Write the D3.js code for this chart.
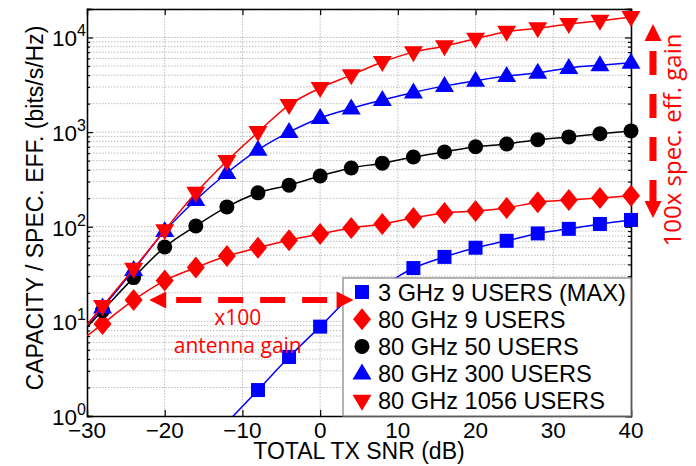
<!DOCTYPE html>
<html>
<head>
<meta charset="utf-8">
<script src="https://cdn.jsdelivr.net/npm/d3@7"></script>
<style>
  body { margin: 0; background: #fff; }
  svg { display: block; font-family: "Liberation Sans", Arial, sans-serif; }
  .note { font-family: "Open Sans", sans-serif; fill: #ff0000; }
</style>
</head>
<body>
<div class="chart"></div>
<script>
var snrDb = [-30, -28, -24, -20, -16, -12, -8, -4, 0, 4, 8, 12, 16, 20, 24, 28, 32, 36, 40];
var xTicks = [-30, -20, -10, 0, 10, 20, 30, 40];
var yDecades = [1, 10, 100, 1000, 10000];

var ghz3Users9 = [null, null, null, null, null, 0.85, 1.88, 4.2, 8.8, 18, 24, 36.6, 48, 60, 71, 85, 95, 107, 118];
var ghz80Users9 = [7.0, 9.4, 16.8, 27, 37, 49, 60, 72, 84, 97, 107, 124, 140, 147, 158, 182, 192, 201, 212];
var ghz80Users50 = [8.7, 13, 29, 61, 102, 162, 228, 275, 344, 418, 470, 545, 617, 700, 750, 830, 890, 960, 1030];
var ghz80Users300 = [9.2, 14, 35, 90, 192, 370, 650, 1000, 1410, 1780, 2180, 2620, 3080, 3490, 3910, 4240, 4770, 5100, 5400];
var ghz80Users1056 = [9.2, 14.5, 36, 92, 228, 496, 1000, 1930, 2930, 4000, 5500, 7000, 8100, 9700, 11500, 12500, 13900, 15000, 16500];

var seriesNames = ['3 GHz 9 USERS (MAX)', '80 GHz 9 USERS', '80 GHz 50 USERS', '80 GHz 300 USERS', '80 GHz 1056 USERS'];
var seriesValues = [ghz3Users9, ghz80Users9, ghz80Users50, ghz80Users300, ghz80Users1056];
var seriesColors = ['#0000ff', '#ff0000', '#000000', '#0000ff', '#ff0000'];
var seriesShapes = ['square', 'diamond', 'circle', 'up', 'down'];

var W = 696, H = 466;
var margin = {top: 9, right: 65, bottom: 50, left: 87};
var width = W - margin.left - margin.right;
var height = H - margin.top - margin.bottom;

var svg = d3.select('div.chart').append('svg')
    .attr('width', W)
    .attr('height', H);

var g = svg.append('g')
    .attr('transform', 'translate(' + margin.left + ',' + margin.top + ')');

var x = d3.scaleLinear().domain([-30, 40]).range([0, width]);
var y = d3.scaleLog().domain([1, 20000]).range([height, 0]);

// minor + major log ticks
var yAll = [];
yDecades.forEach(function (d) {
  for (var k = 1; k <= 9; k++) {
    var v = d * k;
    if (v <= 20000) yAll.push(v);
  }
});
var yMinor = yAll.filter(function (v) { return yDecades.indexOf(v) < 0; });

// grid
g.append('g').selectAll('line.ygrid')
  .data(yAll.filter(function (v) { return v > 1; }))
  .enter().append('line')
  .attr('x1', 0).attr('x2', width)
  .attr('y1', function (d) { return y(d); })
  .attr('y2', function (d) { return y(d); })
  .attr('stroke', '#bdbdbd')
  .attr('stroke-width', 1)
  .attr('stroke-dasharray', '1.5,1.5');

g.append('g').selectAll('line.xgrid')
  .data(xTicks.slice(1, -1))
  .enter().append('line')
  .attr('y1', 0).attr('y2', height)
  .attr('x1', function (d) { return x(d); })
  .attr('x2', function (d) { return x(d); })
  .attr('stroke', '#bdbdbd')
  .attr('stroke-width', 1)
  .attr('stroke-dasharray', '1.5,1.5');

// axes: inward ticks on all four sides
var xAxisB = d3.axisBottom(x).tickValues(xTicks).tickSize(-6).tickFormat('');
var xAxisT = d3.axisTop(x).tickValues(xTicks).tickSize(-6).tickFormat('');
g.append('g').attr('transform', 'translate(0,' + height + ')').call(xAxisB);
g.append('g').call(xAxisT);

var yAxisL = d3.axisLeft(y).tickValues(yDecades).tickSize(-6).tickFormat('');
var yAxisR = d3.axisRight(y).tickValues(yDecades).tickSize(-6).tickFormat('');
var yMinL = d3.axisLeft(y).tickValues(yMinor).tickSize(-3).tickFormat('');
var yMinR = d3.axisRight(y).tickValues(yMinor).tickSize(-3).tickFormat('');
g.append('g').call(yAxisL);
g.append('g').call(yMinL);
g.append('g').attr('transform', 'translate(' + width + ',0)').call(yAxisR);
g.append('g').attr('transform', 'translate(' + width + ',0)').call(yMinR);
g.selectAll('.domain').attr('stroke', '#000').attr('stroke-width', 1.3);
g.selectAll('.tick line').attr('stroke', '#000').attr('stroke-width', 1.2);

// tick labels
g.append('g').selectAll('text.xl')
  .data(xTicks)
  .enter().append('text')
  .attr('x', function (d) { return x(d); })
  .attr('y', height + 22)
  .attr('text-anchor', 'middle')
  .attr('font-size', 22.5)
  .text(function (d) { return d < 0 ? '\u2212' + Math.abs(d) : d; });

var yl = g.append('g').selectAll('text.yl')
  .data(yDecades)
  .enter().append('text')
  .attr('x', -1)
  .attr('y', function (d) { return y(d) + 9; })
  .attr('text-anchor', 'end')
  .attr('font-size', 22.5);
yl.append('tspan').text('10');
yl.append('tspan')
  .attr('dy', -10)
  .attr('font-size', 16)
  .text(function (d) { return Math.round(Math.log10(d)); });

// axis titles
svg.append('text')
  .attr('x', margin.left + width / 2)
  .attr('y', 459)
  .attr('text-anchor', 'middle')
  .attr('font-size', 23)
  .text('TOTAL TX SNR (dB)');

svg.append('text')
  .attr('transform', 'translate(43,208) rotate(-90)')
  .attr('text-anchor', 'middle')
  .attr('font-size', 23)
  .text('CAPACITY / SPEC. EFF. (bits/s/Hz)');

// marker paths
function markerPath(shape) {
  if (shape === 'square') return 'M-7,-7H7V7H-7Z';
  if (shape === 'diamond') return 'M0,-11L9,0L0,11L-9,0Z';
  if (shape === 'circle') return 'M7.5,0A7.5,7.5 0 1,1 -7.5,0A7.5,7.5 0 1,1 7.5,0Z';
  if (shape === 'up') return 'M0,-10L9.5,6L-9.5,6Z';
  return 'M0,10L9.5,-6L-9.5,-6Z';
}

svg.append('defs').append('clipPath').attr('id', 'plotclip')
  .append('rect').attr('width', width).attr('height', height);

var line = d3.line()
  .defined(function (d) { return d.v != null; })
  .x(function (d) { return x(d.s); })
  .y(function (d) { return y(d.v); })
  .curve(d3.curveMonotoneX);

seriesValues.forEach(function (vals, i) {
  var pts = snrDb.map(function (s, j) { return {s: s, v: vals[j]}; });
  g.append('path')
    .datum(pts)
    .attr('clip-path', 'url(#plotclip)')
    .attr('fill', 'none')
    .attr('stroke', seriesColors[i])
    .attr('stroke-width', 1.5)
    .attr('d', line);
  g.append('g').selectAll('path.mk')
    .data(pts.filter(function (d) { return d.s > -30 && d.v != null && d.v >= 1; }))
    .enter().append('path')
    .attr('transform', function (d) { return 'translate(' + x(d.s) + ',' + y(d.v) + ')'; })
    .attr('d', markerPath(seriesShapes[i]))
    .attr('fill', seriesColors[i]);
});

// legend
var legX = 256, legY = 269, legW = width - legX, legH = height - legY;
var leg = g.append('g').attr('transform', 'translate(' + legX + ',' + legY + ')');
leg.append('rect')
  .attr('width', legW).attr('height', legH)
  .attr('fill', '#fff').attr('stroke', '#8a8a8a').attr('stroke-width', 1.3);
seriesNames.forEach(function (name, i) {
  var ly = 14 + i * 27.2;
  leg.append('path')
    .attr('transform', 'translate(19,' + ly + ')')
    .attr('d', markerPath(seriesShapes[i]))
    .attr('fill', seriesColors[i]);
  leg.append('text')
    .attr('x', 35).attr('y', ly + 8.5)
    .attr('font-size', 23.6)
    .text(name);
});

// annotations
function arrowHead(sel, tx, ty, dx, dy) {
  // tip at (tx,ty), pointing along (dx,dy)
  var L = 17, hw = 8.5;
  var bx = tx - dx * L, by = ty - dy * L;
  sel.append('path')
    .attr('d', 'M' + tx + ',' + ty + 'L' + (bx - dy * hw) + ',' + (by + dx * hw) +
      'L' + (bx + dy * hw) + ',' + (by - dx * hw) + 'Z')
    .attr('fill', '#ff0000');
}

var ann = svg.append('g');
var hy = margin.top + y(16.8);
var hx1 = margin.left + x(-22), hx2 = margin.left + x(4.3);
ann.append('line')
  .attr('x1', hx1 + 17).attr('x2', hx2 - 17)
  .attr('y1', hy).attr('y2', hy)
  .attr('stroke', '#ff0000').attr('stroke-width', 6)
  .attr('stroke-dasharray', '25,17')
  .attr('stroke-dashoffset', -10);
arrowHead(ann, hx1, hy, -1, 0);
arrowHead(ann, hx2, hy, 1, 0);
ann.append('text').attr('class', 'note')
  .attr('x', margin.left + x(-10.6)).attr('y', 325)
  .attr('text-anchor', 'middle').attr('font-size', 21)
  .text('x100');
ann.append('text').attr('class', 'note')
  .attr('x', margin.left + x(-10.6)).attr('y', 353)
  .attr('text-anchor', 'middle').attr('font-size', 21)
  .text('antenna gain');

var vx = margin.left + width + 22;
var vy1 = 24, vy2 = 218;
ann.append('line')
  .attr('x1', vx).attr('x2', vx)
  .attr('y1', vy1 + 17).attr('y2', vy2 - 17)
  .attr('stroke', '#ff0000').attr('stroke-width', 7)
  .attr('stroke-dasharray', '24,19')
  .attr('stroke-dashoffset', -10);
arrowHead(ann, vx, vy1, 0, -1);
arrowHead(ann, vx, vy2, 0, 1);
ann.append('text').attr('class', 'note')
  .attr('transform', 'translate(681,140) rotate(-90)')
  .attr('text-anchor', 'middle').attr('font-size', 24)
  .text('100x spec. eff. gain');
</script>
</body>
</html>
